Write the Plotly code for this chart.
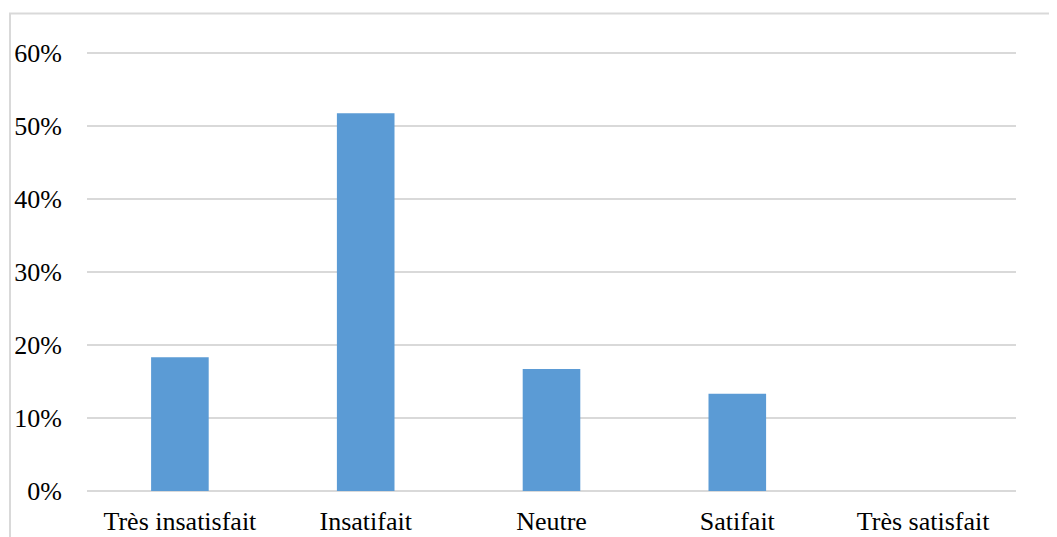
import plotly.graph_objects as go

categories = ["Très insatisfait", "Insatifait", "Neutre", "Satifait", "Très satisfait"]
values = [0.183, 0.517, 0.167, 0.133, 0.0]
tick_vals = [0, 0.1, 0.2, 0.3, 0.4, 0.5, 0.6]
tick_text = ["0%", "10%", "20%", "30%", "40%", "50%", "60%"]

# page has an 8px body margin; compensate so the chart lands where the reference has it
W, H = 1049, 529
L, R, B = 79, 41, 46
y_top = 0.605
ph = 73 * y_top * 10
T = int(round(H - B - ph))
pw = W - L - R

FONT = "Times New Roman, Liberation Serif, DejaVu Serif, serif"

fig = go.Figure(go.Bar(
    x=categories, y=values,
    marker=dict(color="#5b9bd5", line=dict(width=0)),
    width=0.31,
))

fig.update_layout(
    width=W, height=H,
    margin=dict(l=L, r=R, t=T, b=B, autoexpand=False),
    paper_bgcolor="white", plot_bgcolor="white",
    font=dict(family=FONT, size=26, color="#000000"),
    showlegend=False,
    xaxis=dict(showgrid=False, showline=False, zeroline=False, ticks="",
               automargin=False,
               tickfont=dict(family=FONT, size=26), ticklabelstandoff=12),
    yaxis=dict(range=[0, y_top], tickvals=tick_vals, ticktext=tick_text,
               showgrid=True, gridcolor="#d9d9d9", gridwidth=2,
               zeroline=True, zerolinecolor="#d9d9d9", zerolinewidth=2,
               showline=False, ticks="", automargin=False,
               tickfont=dict(family=FONT, size=26), ticklabelstandoff=24),
    shapes=[dict(type="rect", xref="paper", yref="paper",
                 x0=(2 - L) / pw, x1=(W + 10 - L) / pw,
                 y0=-(B + 10) / ph, y1=(H - B - 6) / ph,
                 line=dict(color="#d9d9d9", width=2), layer="below")],
)

fig.write_html("out.html")
